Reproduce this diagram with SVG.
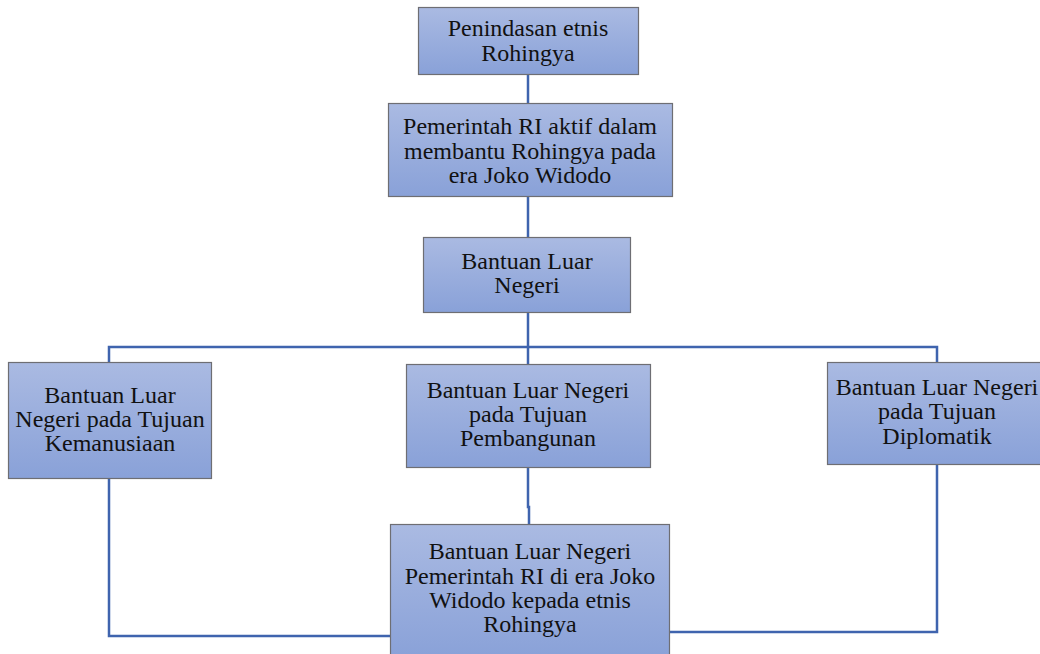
<svg xmlns="http://www.w3.org/2000/svg" width="1040" height="654" viewBox="0 0 1040 654">
<defs>
<linearGradient id="g" x1="0" y1="0" x2="0" y2="1">
<stop offset="0" stop-color="#AABAE2"/>
<stop offset="1" stop-color="#89A1D8"/>
</linearGradient>
<style>
.box{fill:url(#g);stroke:#6E6E73;stroke-width:1.2}
.t{font-family:"Liberation Serif","Times New Roman",serif;font-size:24px;fill:#111;text-anchor:middle}
.c{fill:none;stroke:#3F64AE;stroke-width:2.5}
</style>
</defs>
<rect width="1040" height="654" fill="#fff"/>
<g id="connectors">
<path class="c" d="M528 74V103"/>
<path class="c" d="M528 196V237"/>
<path class="c" d="M528 312V347"/>
<path class="c" d="M109 362V347H937V362"/>
<path class="c" d="M528 347V364"/>
<path class="c" d="M528 467V507H529V524"/>
<path class="c" d="M109 478V636H390"/>
<path class="c" d="M937 464V632H669"/>
</g>
<g id="n1"><rect class="box" x="418.5" y="7.5" width="220" height="67"/>
<text class="t" x="528" y="36">Penindasan etnis</text><text class="t" x="528" y="61">Rohingya</text></g>
<g id="n2"><rect class="box" x="388.5" y="103.5" width="284" height="93"/>
<text class="t" x="530" y="134">Pemerintah RI aktif dalam</text><text class="t" x="530" y="159">membantu Rohingya pada</text><text class="t" x="530" y="183">era Joko Widodo</text></g>
<g id="n3"><rect class="box" x="423.5" y="237.5" width="207" height="75"/>
<text class="t" x="527" y="269">Bantuan Luar</text><text class="t" x="527" y="293">Negeri</text></g>
<g id="n4"><rect class="box" x="8.5" y="362.5" width="203" height="116"/>
<text class="t" x="110" y="403">Bantuan Luar</text><text class="t" x="110" y="427">Negeri pada Tujuan</text><text class="t" x="110" y="451">Kemanusiaan</text></g>
<g id="n5"><rect class="box" x="406.5" y="364.5" width="244" height="103"/>
<text class="t" x="528" y="398">Bantuan Luar Negeri</text><text class="t" x="528" y="422">pada Tujuan</text><text class="t" x="528" y="446">Pembangunan</text></g>
<g id="n6"><rect class="box" x="827.5" y="362.5" width="214" height="102"/>
<text class="t" x="937" y="395">Bantuan Luar Negeri</text><text class="t" x="937" y="419">pada Tujuan</text><text class="t" x="937" y="444">Diplomatik</text></g>
<g id="n7"><rect class="box" x="390.5" y="524.5" width="279" height="135"/>
<text class="t" x="530" y="559">Bantuan Luar Negeri</text><text class="t" x="530" y="584">Pemerintah RI di era Joko</text><text class="t" x="530" y="608">Widodo kepada etnis</text><text class="t" x="530" y="632">Rohingya</text></g>
</svg>
